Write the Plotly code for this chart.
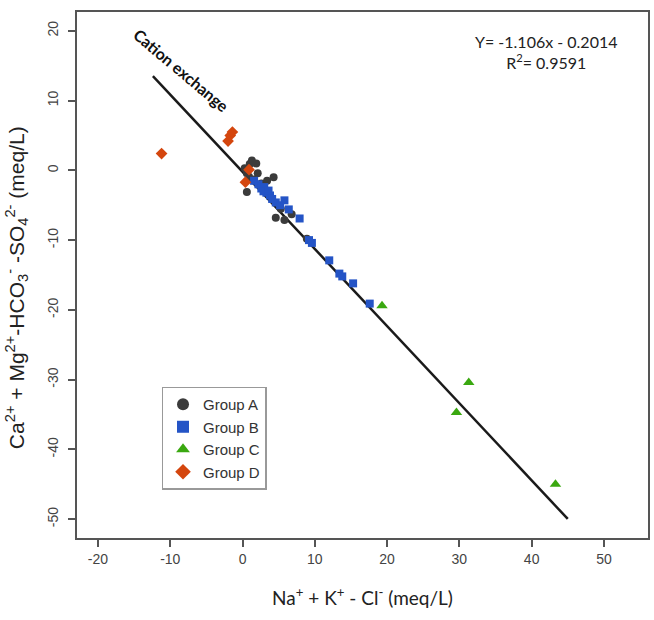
import plotly.graph_objects as go

# Sample groups: x = Na+ + K+ - Cl-, y = Ca2+ + Mg2+ - HCO3- - SO4^2- (meq/L)
group_a_x = [0.3, 0.6, 1.0, 1.3, 1.9, 2.1, 1.6, 0.6, 2.6, 3.4, 4.3, 4.6, 5.8, 6.8, 5.3, 8.9, 0.9]
group_a_y = [0.3, -0.4, 0.9, 1.4, 1.0, -0.4, -1.3, -3.1, -1.9, -1.5, -1.0, -6.8, -7.1, -6.3, -5.5, -9.8, -0.9]

group_b_x = [1.6, 2.2, 2.6, 3.0, 3.3, 3.8, 4.1, 4.6, 5.2, 5.8, 6.4, 7.9, 9.2, 9.6, 12.0, 13.4, 13.8, 15.3, 17.6, 2.9, 3.6]
group_b_y = [-1.5, -2.0, -2.6, -2.4, -3.2, -3.6, -4.1, -4.6, -5.0, -4.3, -5.6, -6.9, -10.0, -10.4, -12.9, -14.8, -15.2, -16.2, -19.1, -3.0, -2.9]

group_c_x = [19.3, 31.3, 29.6, 43.3]
group_c_y = [-19.4, -30.4, -34.7, -45.0]

group_d_x = [-11.2, -2.0, -1.7, -1.4, 0.4, 0.9]
group_d_y = [2.4, 4.2, 5.0, 5.5, -1.7, 0.1]

# Linear fit Y = slope * x + intercept
slope = -1.106
intercept = -0.2014
r_squared = 0.9591
fit_x = [-12.4, 45.0]
fit_y = [slope * v + intercept for v in fit_x]

x_ticks = [-20, -10, 0, 10, 20, 30, 40, 50]
y_ticks = [20, 10, 0, -10, -20, -30, -40, -50]

fig = go.Figure()

fig.add_trace(go.Scatter(
    x=fit_x, y=fit_y, mode="lines",
    line=dict(color="#1a1a1a", width=2.5), showlegend=False, hoverinfo="skip"))

fig.add_trace(go.Scatter(
    x=group_a_x, y=group_a_y, mode="markers", name="Group A",
    marker=dict(symbol="circle", size=8, color="#3b3b3b")))
fig.add_trace(go.Scatter(
    x=group_b_x, y=group_b_y, mode="markers", name="Group B",
    marker=dict(symbol="square", size=8, color="#2454c6")))
fig.add_trace(go.Scatter(
    x=group_c_x, y=group_c_y, mode="markers", name="Group C",
    marker=dict(symbol="triangle-up", size=10, color="#3aa810")))
fig.add_trace(go.Scatter(
    x=group_d_x, y=group_d_y, mode="markers", name="Group D",
    marker=dict(symbol="diamond", size=9, color="#d4460e")))

axis_common = dict(
    showgrid=False, zeroline=False, showline=True, mirror=True,
    linecolor="#555555", linewidth=2, ticks="outside", ticklen=7,
    tickwidth=2, tickcolor="#555555",
    tickfont=dict(family="Liberation Sans, Arial", size=14, color="#444444"),
)

fig.update_layout(
    width=654, height=620,
    margin=dict(l=77, r=4, t=12, b=82),
    paper_bgcolor="white", plot_bgcolor="white",
    xaxis=dict(range=[-22.9, 56.1], tickvals=x_ticks,
               ticktext=[str(v) for v in x_ticks], **axis_common,
               title=dict(text="Na<sup>+</sup> + K<sup>+</sup> - Cl<sup>-</sup> (meq/L)",
                          font=dict(family="Lato, Open Sans", size=19, color="#222222"),
                          standoff=26)),
    yaxis=dict(range=[-52.7, 22.7], tickvals=y_ticks,
               ticktext=[str(v) for v in y_ticks], tickangle=-90,
               ticklabelstandoff=4, **axis_common),
    legend=dict(x=0.148, y=0.288, xanchor="left", yanchor="top",
                bgcolor="white", bordercolor="#999999", borderwidth=1.5,
                font=dict(family="Liberation Sans, Arial", size=15, color="#333333"),
                itemsizing="constant", tracegroupgap=0),
    showlegend=True,
)

# y-axis title placed as a rotated annotation
fig.add_annotation(
    x=0, y=0.475, xref="paper", yref="paper", showarrow=False,
    xanchor="center", yanchor="middle", xshift=-61, textangle=-90,
    text="Ca<sup>2+</sup> + Mg<sup>2+</sup>-HCO<sub>3</sub><sup>-</sup> -SO<sub>4</sub><sup>2-</sup> (meq/L)",
    font=dict(family="Liberation Sans, Arial", size=21, color="#222222"))

fig.add_annotation(
    x=0.822, y=0.924, xref="paper", yref="paper", showarrow=False,
    xanchor="center", yanchor="middle",
    text=f"Y= {slope}x - {abs(intercept)}<br>R<sup>2</sup>= {r_squared}",
    font=dict(family="Lato, Open Sans", size=16, color="#222222"), align="center")

fig.add_annotation(
    x=-8.4, y=14.3, showarrow=False, textangle=40,
    text="<b>Cation exchange</b>",
    font=dict(family="Lato, Open Sans", size=16, color="#111111"))

fig.write_html("out.html")
